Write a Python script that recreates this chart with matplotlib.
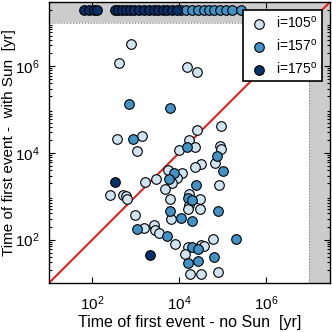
import matplotlib
matplotlib.use('Agg')
from matplotlib import pyplot as plt

plt.rcParams['font.family'] = ['Liberation Sans', 'DejaVu Sans']
plt.rcParams['mathtext.fontset'] = 'custom'
plt.rcParams['mathtext.rm'] = 'Liberation Sans'

# i=105 deg (светлые)
x105 = [775, 410, 1.49e4, 2.53e4, 369, 1390, 1050, 9890, 1.68e4, 2.35e4,
        2.53e4, 9.0e4, 8.7e4, 9.2e4, 6.7e4, 3.18e4, 2.31e4, 5.4e3, 1.16e4, 9.0e3,
        6.7e3, 2.92e3, 1.59e3, 4.7e3, 8.1e4, 1.68e4, 3.0e4, 6.3e3, 1.71e4, 1.62e4,
        3.0e4, 6.65e3, 1.57e3, 2.70e3, 2.72e3, 3.46e3, 8.0e3, 1.57e4, 3.18e4, 3.72e4,
        6.0e4, 1.34e4, 1.80e4, 3.18e4, 8.05e4, 255, 515, 585, 637, 973]
y105 = [3.2e6, 1.17e6, 9.3e5, 7.3e5, 2.08e4, 2.44e4, 1.10e4, 1.16e4, 1.97e4, 1.38e4,
        3.35e4, 4.15e4, 1.44e4, 1.22e4, 5.8e3, 5.5e3, 4.8e3, 4.0e3, 3.5e3, 2.67e3,
        2.01e3, 2.45e3, 2.1e3, 1.43e3, 1.84e3, 1.12e3, 850, 885, 627, 499,
        507, 303, 188, 223, 171, 142, 81, 68.5, 75, 73,
        102, 46, 16.1, 16.4, 17.7, 1.07e3, 1.07e3, 1.01e3, 861, 369]

# i=157 deg (средние)
x157 = [686, 6.0e3, 861, 1.51e4, 7.3e4, 1.04e5, 7.5e3, 5.7e3, 2.44e4, 1.57e4,
        1.94e4, 6.1e3, 7.8e4, 1.13e4, 2.0e4, 5.2e3, 2.0e4, 2.75e4, 2.0e5, 1.57e4,
        2.71e4, 6.3e4, 1050,
        1.10e4, 1.43e4, 1.97e4, 2.71e4, 3.72e4, 4.86e4, 6.34e4, 8.7e4, 1.20e5, 1.65e5,
        2.65e5]
y157 = [1.33e5, 1.09e5, 2.08e4, 1.36e4, 8.4e3, 3.8e3, 3.46e3, 2.43e3, 1.81e3, 923,
        817, 463, 463, 320, 272, 118, 68.5, 60, 102, 29.4,
        32.7, 39, 173,
        2e7, 2e7, 2e7, 2e7, 2e7, 2e7, 2e7, 2e7, 2e7, 2e7,
        2e7]

# i=175 deg (тёмные)
x175 = [327, 2150,
        64, 84, 109, 128, 332, 389, 481, 595, 735, 909,
        1190, 1546, 2015, 2626, 3250, 4240, 5240, 6830, 8900]
y175 = [2.1e3, 44,
        2e7, 2e7, 2e7, 2e7, 2e7, 2e7, 2e7, 2e7, 2e7, 2e7,
        2e7, 2e7, 2e7, 2e7, 2e7, 2e7, 2e7, 2e7, 2e7]

t_min, t_max = 10, 3e7
t_sim = 1e7  # конец симуляции


def draw():
    fig = plt.figure(figsize=(3.32, 3.32), dpi=100)
    ax = fig.add_axes([0.1476, 0.1476, 0.8464, 0.8464])

    # серые полосы: событие не наступило
    ax.axvspan(t_sim, t_max, color='#cccccc', lw=0, zorder=0)
    ax.axhspan(t_sim, t_max, color='#cccccc', lw=0, zorder=0)
    ax.plot([t_sim, t_sim], [t_min, t_sim], ':', color='#888888', lw=0.8, zorder=1)
    ax.plot([t_min, t_sim], [t_sim, t_sim], ':', color='#888888', lw=0.8, zorder=1)

    ax.plot([t_min, t_max], [t_min, t_max], '-', color='#e8231f', lw=1.5, zorder=2)

    kw = dict(s=48, edgecolors='black', linewidths=0.8, zorder=3)
    ax.scatter(x105, y105, c='#d0e3f1', label='i=105$^{\\rm o}$', **kw)
    ax.scatter(x157, y157, c='#4292c6', label='i=157$^{\\rm o}$', **kw)
    ax.scatter(x175, y175, c='#08306b', label='i=175$^{\\rm o}$', **kw)

    ax.set_xscale('log')
    ax.set_yscale('log')
    ax.set_xlim(t_min, t_max)
    ax.set_ylim(t_min, t_max)
    ax.set_xticks([1e2, 1e4, 1e6])
    ax.set_yticks([1e2, 1e4, 1e6])
    ax.tick_params(which='both', direction='in', top=True, right=True,
                   labelsize=11, width=0.8)
    ax.tick_params(axis='x', which='major', length=4, pad=8)
    ax.tick_params(axis='y', which='major', length=4, pad=7)
    ax.tick_params(which='minor', length=2)
    for sp in ax.spines.values():
        sp.set_linewidth(1.0)

    ax.set_xlabel('Time of first event - no Sun  [yr]', fontsize=11.5, va='center')
    ax.set_ylabel('Time of first event -  with Sun  [yr]', fontsize=11, va='center')
    ax.xaxis.set_label_coords(0.5, -0.139)
    ax.yaxis.set_label_coords(-0.142, 0.5)

    leg = ax.legend(loc='upper right', fontsize=10, fancybox=False, framealpha=1,
                    edgecolor='black', borderaxespad=0.6, borderpad=0.3,
                    handlelength=1.6, handletextpad=0.45,
                    labelspacing=0.5, scatterpoints=1)
    leg.get_frame().set_linewidth(1.2)

    fig.savefig('out.png', dpi=100)


def main():
    draw()


if __name__ == '__main__':
    main()
